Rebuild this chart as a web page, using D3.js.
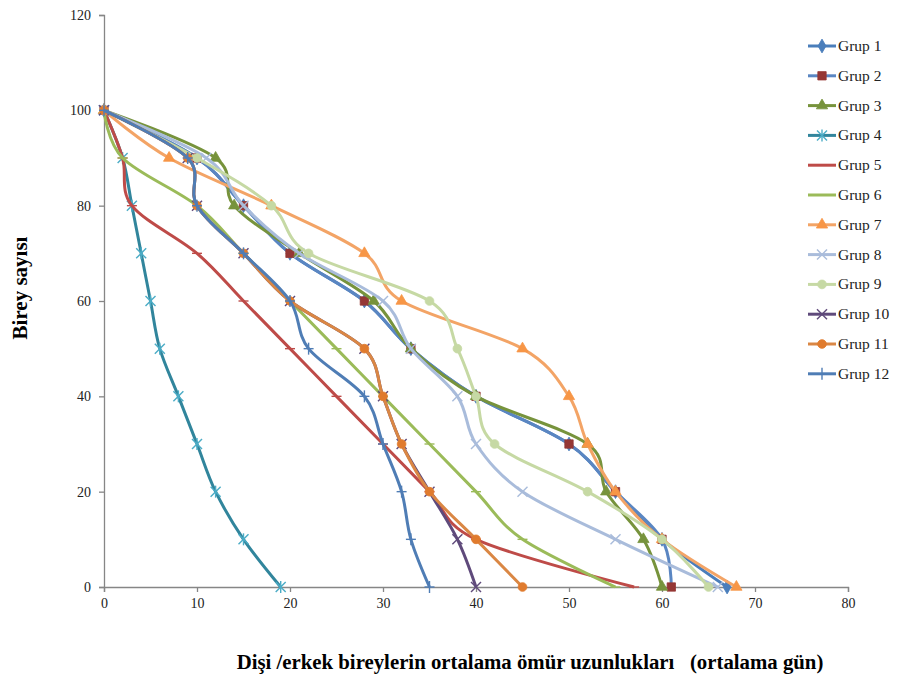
<!DOCTYPE html>
<html>
<head>
<meta charset="utf-8">
<script src="https://cdn.jsdelivr.net/npm/d3@7"></script>
<style>
  body { margin: 0; background: #fff; }
  text { font-family: "Liberation Serif", "Times New Roman", serif; }
</style>
</head>
<body>
<div id="chart"></div>
<script>
// y values shared by every group (number of individuals)
const bireyLevels = [100, 90, 80, 70, 60, 50, 40, 30, 20, 10, 0];

// mean lifespan (days) at each level
const grup1  = [0, 10, 15, 20, 28, 33, 40, 50, 55, 60, 67];
const grup2  = [0, 10, 15, 20, 28, 33, 40, 50, 55, 60, 61];
const grup3  = [0, 12, 14, 21, 29, 33, 40, 52, 54, 58, 60];
const grup4  = [0, 2, 3, 4, 5, 6, 8, 10, 12, 15, 19];
const grup5  = [0, 2, 3, 10, 15, 20, 25, 30, 35, 40, 57];
const grup6  = [0, 2, 10, 15, 20, 25, 30, 35, 40, 45, 55];
const grup7  = [0, 7, 18, 28, 32, 45, 50, 52, 55, 60, 68];
const grup8  = [0, 11, 15, 21, 30, 33, 38, 40, 45, 55, 66];
const grup9  = [0, 10, 18, 22, 35, 38, 40, 42, 52, 60, 65];
const grup10 = [0, 9, 10, 15, 20, 28, 30, 32, 35, 38, 40];
const grup11 = [0, 9, 10, 15, 20, 28, 30, 32, 35, 40, 45];
const grup12 = [0, 9, 10, 15, 20, 22, 28, 30, 32, 33, 35];

const seriesNames = ["Grup 1", "Grup 2", "Grup 3", "Grup 4", "Grup 5", "Grup 6",
                     "Grup 7", "Grup 8", "Grup 9", "Grup 10", "Grup 11", "Grup 12"];
const seriesValues = [grup1, grup2, grup3, grup4, grup5, grup6,
                      grup7, grup8, grup9, grup10, grup11, grup12];

const xTicks = [0, 10, 20, 30, 40, 50, 60, 70, 80];
const yTicks = [0, 20, 40, 60, 80, 100, 120];

// line colour, marker colour, marker kind
var styles = [
  {line: "#4A7EBB", mark: "#4A7EBB", kind: "diamond"},
  {line: "#5A86C2", mark: "#953735", kind: "square"},
  {line: "#77933C", mark: "#77933C", kind: "triangle"},
  {line: "#31859C", mark: "#4BACC6", kind: "asterisk"},
  {line: "#BE4B48", mark: "#BE4B48", kind: "dash"},
  {line: "#9BBB59", mark: "#9BBB59", kind: "dash"},
  {line: "#F3A466", mark: "#F79646", kind: "triangle"},
  {line: "#A9BCDB", mark: "#A9BCDB", kind: "x"},
  {line: "#C6D9A4", mark: "#C6D9A4", kind: "circle"},
  {line: "#5F4A7B", mark: "#5F4A7B", kind: "x"},
  {line: "#DA8744", mark: "#E07B2E", kind: "circle"},
  {line: "#4F7DB5", mark: "#4F7DB5", kind: "plus"}
];

var width = 908, height = 681;
var margin = {top: 15, right: 60, bottom: 94, left: 104};
var plotW = 848 - margin.left,
    plotH = 587 - margin.top;

var svg = d3.select("#chart").append("svg")
    .attr("width", width)
    .attr("height", height);

var g = svg.append("g")
    .attr("transform", "translate(" + margin.left + "," + margin.top + ")");

var x = d3.scaleLinear().domain([0, 80]).range([0, plotW]);
var y = d3.scaleLinear().domain([0, 120]).range([plotH, 0]);

// axes
var xAxis = g.append("g")
    .attr("transform", "translate(0," + plotH + ")")
    .call(d3.axisBottom(x).tickValues(xTicks).tickSize(5).tickPadding(6));
var yAxis = g.append("g")
    .call(d3.axisLeft(y).tickValues(yTicks).tickSize(5).tickPadding(8));

[xAxis, yAxis].forEach(function(a) {
  a.select(".domain").attr("stroke", "#868686").attr("stroke-width", 1.3);
  a.selectAll(".tick line").attr("stroke", "#868686").attr("stroke-width", 1.3);
  a.selectAll(".tick text")
    .attr("fill", "#222")
    .style("font-family", "'Liberation Serif', serif")
    .style("font-size", "14px");
});

function drawMarker(sel, kind, color, size) {
  var s = size;
  if (kind === "diamond" || kind === "square" || kind === "triangle" || kind === "circle") {
    var sym = {diamond: d3.symbolDiamond, square: d3.symbolSquare,
               triangle: d3.symbolTriangle, circle: d3.symbolCircle}[kind];
    var area = {diamond: 55, square: 70, triangle: 55, circle: 60}[kind];
    sel.append("path")
      .attr("d", d3.symbol().type(sym).size(area))
      .attr("fill", color)
      .attr("stroke", color)
      .attr("stroke-width", 0.8);
  } else {
    var segs = [];
    if (kind === "x" || kind === "asterisk") {
      segs.push([-s, -s, s, s], [-s, s, s, -s]);
    }
    if (kind === "asterisk" || kind === "plus") {
      segs.push([0, -s - 1, 0, s + 1]);
    }
    if (kind === "plus") {
      segs.push([-s, 0, s, 0]);
    }
    if (kind === "dash") {
      segs.push([-s, 0, s, 0]);
    }
    segs.forEach(function(p) {
      sel.append("line")
        .attr("x1", p[0]).attr("y1", p[1])
        .attr("x2", p[2]).attr("y2", p[3])
        .attr("stroke", color)
        .attr("stroke-width", 1.4);
    });
  }
}

var line = d3.line()
    .x(function(d) { return x(d[0]); })
    .y(function(d) { return y(d[1]); })
    .curve(d3.curveCardinal.tension(0));

seriesValues.forEach(function(vals, i) {
  var pts = vals.map(function(v, k) { return [v, bireyLevels[k]]; });
  var st = styles[i];
  g.append("path")
    .datum(pts)
    .attr("fill", "none")
    .attr("stroke", st.line)
    .attr("stroke-width", 3)
    .attr("stroke-linejoin", "round")
    .attr("d", line);

  pts.forEach(function(p) {
    var m = g.append("g")
      .attr("transform", "translate(" + x(p[0]) + "," + y(p[1]) + ")");
    drawMarker(m, st.kind, st.mark, 5);
  });
});

// legend
var legend = svg.append("g").attr("transform", "translate(808,46)");
seriesNames.forEach(function(name, i) {
  var row = legend.append("g").attr("transform", "translate(0," + (i * 29.8) + ")");
  row.append("line")
    .attr("x1", 0).attr("x2", 28)
    .attr("y1", 0).attr("y2", 0)
    .attr("stroke", styles[i].line)
    .attr("stroke-width", 3);
  var m = row.append("g").attr("transform", "translate(14,0)");
  drawMarker(m, styles[i].kind, styles[i].mark, 5);
  row.append("text")
    .attr("x", 30)
    .attr("y", 5)
    .attr("fill", "#222")
    .style("font-size", "15.5px")
    .text(name);
});

// axis titles
svg.append("text")
  .attr("transform", "translate(27,288) rotate(-90)")
  .attr("text-anchor", "middle")
  .style("font-size", "21px")
  .style("font-weight", "bold")
  .text("Birey sayısı");

svg.append("text")
  .attr("x", 530)
  .attr("y", 669)
  .attr("text-anchor", "middle")
  .style("font-size", "20.8px")
  .style("font-weight", "bold")
  .style("white-space", "pre")
  .text("Dişi /erkek bireylerin ortalama ömür uzunlukları   (ortalama gün)");
</script>
</body>
</html>
